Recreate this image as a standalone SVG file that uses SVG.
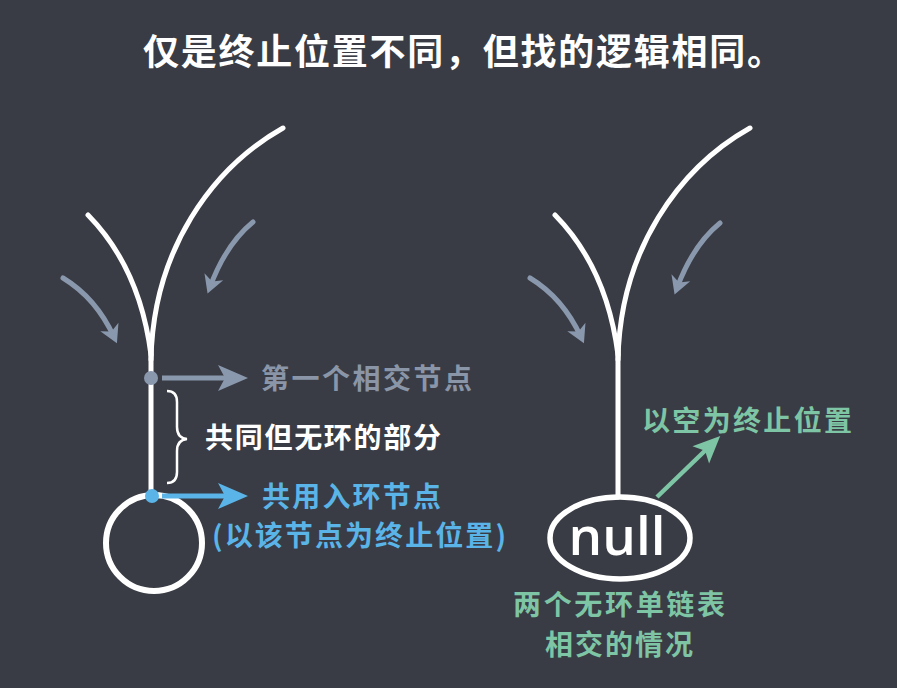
<svg xmlns="http://www.w3.org/2000/svg" width="897" height="688" viewBox="0 0 897 688">
<style>
.bg{fill:#393c44}
.branch{fill:none;stroke:#ffffff;stroke-width:5;stroke-linecap:round}
.garrow{fill:none;stroke:#8a98ae;stroke-width:5;stroke-linecap:round}
.cjk{font-family:"Noto Sans CJK SC","Noto Sans",sans-serif;font-size:28px;font-weight:600}
.title{font-family:"Noto Sans CJK SC","Noto Sans",sans-serif;font-size:36px;font-weight:700;fill:#ffffff}
.gray{fill:#8a96a8}
.blue{fill:#5ab4e8}
.green{fill:#7ec5a5}
.white{fill:#ffffff}
</style>
<defs>
<marker id="headSmall" viewBox="-14 -12 24 24" markerWidth="24" markerHeight="24" refX="0" refY="0" orient="auto" markerUnits="userSpaceOnUse">
<path d="M7,0 L-11,-10 L-6,0 L-11,10 Z" fill="#8a98ae"/>
</marker>
<marker id="headGray" viewBox="-24 -15 36 30" markerWidth="36" markerHeight="30" refX="0" refY="0" orient="auto" markerUnits="userSpaceOnUse">
<path d="M10,0 L-20,-13 L-13,0 L-20,13 Z" fill="#8a98ae"/>
</marker>
<marker id="headBlue" viewBox="-24 -15 36 30" markerWidth="36" markerHeight="30" refX="0" refY="0" orient="auto" markerUnits="userSpaceOnUse">
<path d="M10,0 L-20,-13 L-13,0 L-20,13 Z" fill="#5ab4e8"/>
</marker>
<marker id="headGreen" viewBox="-24 -15 36 30" markerWidth="36" markerHeight="30" refX="0" refY="0" orient="auto" markerUnits="userSpaceOnUse">
<path d="M10,0 L-17,-12 L-11,0 L-17,12 Z" fill="#7ec5a5"/>
</marker>
</defs>
<rect class="bg" x="0" y="0" width="897" height="688"/>

<text class="title" x="143" y="65" textLength="640" lengthAdjust="spacing">仅是终止位置不同，但找的逻辑相同。</text>

<g id="left-list">
<path class="branch" d="M88,215 Q140,268 151,355"/>
<path class="branch" d="M283,128 C212,168 153,250 151,360"/>
<path class="branch" d="M151,350 L151,496"/>
<circle cx="154" cy="543" r="48" fill="none" stroke="#ffffff" stroke-width="6"/>
</g>

<g id="right-list">
<path class="branch" d="M555,215 Q607,268 618,355"/>
<path class="branch" d="M750,128 C679,168 620,250 618,360"/>
<path class="branch" d="M618,350 L618,497"/>
<ellipse cx="620" cy="538" rx="70" ry="41" fill="none" stroke="#ffffff" stroke-width="5.5"/>
<text x="617" y="555" text-anchor="middle" font-family="'Open Sans','Liberation Sans',sans-serif" font-size="53" font-weight="600" fill="#ffffff">null</text>
</g>

<g id="first-node">
<circle cx="151" cy="378" r="7" fill="#8a98ae"/>
</g>
<g id="entry-node">
<circle cx="152" cy="496" r="7" fill="#5ab4e8"/>
</g>

<g id="connectors">
<path class="garrow" d="M63,278 Q96,298 114,337" marker-end="url(#headSmall)"/>
<path class="garrow" d="M253,222 Q226,244 210,287" marker-end="url(#headSmall)"/>
<path class="garrow" d="M530,278 Q563,298 581,337" marker-end="url(#headSmall)"/>
<path class="garrow" d="M720,223 Q693,245 677,288" marker-end="url(#headSmall)"/>
<path d="M162,378 L238,378" fill="none" stroke="#8a98ae" stroke-width="5" marker-end="url(#headGray)"/>
<path d="M162,496 L238,496" fill="none" stroke="#5ab4e8" stroke-width="5" marker-end="url(#headBlue)"/>
<path d="M657,497 L713,443" fill="none" stroke="#7ec5a5" stroke-width="4.5" marker-end="url(#headGreen)"/>
<path d="M167,391 Q177,391 177,402 L177,427 Q177,438 187,439 Q177,440 177,451 L177,472 Q177,483 167,483" fill="none" stroke="#ffffff" stroke-width="2.5"/>
</g>

<g id="labels">
<text class="cjk gray" x="261" y="389" textLength="211" lengthAdjust="spacing">第一个相交节点</text>
<text class="cjk white" x="205" y="448" textLength="236" lengthAdjust="spacing">共同但无环的部分</text>
<text class="cjk blue" x="262" y="507" textLength="179" lengthAdjust="spacing">共用入环节点</text>
<text class="cjk blue" x="212" y="546" textLength="294" lengthAdjust="spacing">(以该节点为终止位置)</text>
<text class="cjk green" x="642" y="431" textLength="210" lengthAdjust="spacing">以空为终止位置</text>
<text class="cjk green" x="513" y="615" textLength="212" lengthAdjust="spacing">两个无环单链表</text>
<text class="cjk green" x="545" y="655" textLength="148" lengthAdjust="spacing">相交的情况</text>
</g>
</svg>
